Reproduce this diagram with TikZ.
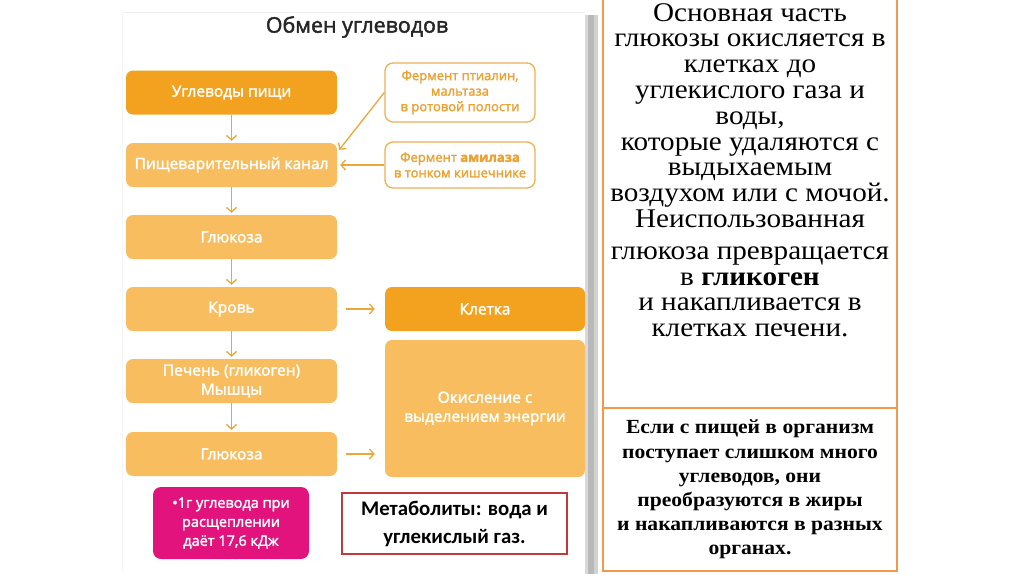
\documentclass[tikz,border=0pt]{standalone}
\usepackage{fontspec}
\setmainfont{Open Sans}
\newfontfamily\osemi[FakeBold=2]{Open Sans}
\newfontfamily\serifru[FakeStretch=1.08]{Liberation Serif}
\newfontfamily\calib{Carlito}
\usetikzlibrary{arrows.meta}
\definecolor{dorange}{HTML}{F3A220}
\definecolor{lorange}{HTML}{F8BD5E}
\definecolor{arrc}{HTML}{E9A837}
\definecolor{etext}{HTML}{EBA233}
\definecolor{pinkb}{HTML}{E2137C}
\definecolor{redb}{HTML}{C0393B}
\definecolor{rline}{HTML}{F29A4A}
\tikzset{
  x=1pt,y=-1pt,
  lbox/.style={rounded corners=7pt, text=white, font=\osemi\fontsize{15.5}{19}\selectfont, align=center,
    minimum width=211pt, minimum height=44pt, inner sep=0pt, fill=lorange},
  dbox/.style={lbox, fill=dorange},
  ebox/.style={rounded corners=8pt, draw=etext!85, line width=1.3pt, fill=white, text=etext,
    font=\osemi\fontsize{13}{15.5}\selectfont, align=center, minimum width=150pt, inner sep=0pt},
  flow/.style={draw=arrc, line width=1.3pt, -{Straight Barb[length=4.5pt,width=10pt,line width=1.3pt]}},
  rbox/.style={draw=rline, line width=2pt}
}
\begin{document}
\begin{tikzpicture}
\useasboundingbox (0,0) rectangle (1024,574);
\fill[white] (0,0) rectangle (1024,574);
% panel
\draw[gray!12, line width=0.8pt] (122,12) -- (585,12);
\draw[gray!8, line width=0.8pt] (122,12) -- (122,572);
\fill[gray!30] (585,15) rectangle (588,574);
\fill[gray!55] (588,15) rectangle (594,574);
\fill[gray!35] (594,15) rectangle (598,574);
% title
\node[font=\osemi\fontsize{21.4}{25}\selectfont, text=black!85] (title) at (357,27) {Обмен углеводов};
% left column
\node[dbox] (n1) at (231.5,92.5) {Углеводы пищи};
\node[lbox] (n2) at (231.5,165) {Пищеварительный канал};
\node[lbox] (n3) at (231.5,237) {Глюкоза};
\node[lbox] (n4) at (231.5,309) {Кровь};
\node[lbox] (n5) at (231.5,381) {Печень (гликоген)\\Мышцы};
\node[lbox] (n6) at (231.5,454) {Глюкоза};
% enzymes
\node[ebox, minimum height=59pt] (e1) at (460,92.5) {Фермент птиалин,\\мальтаза\\в ротовой полости};
\node[ebox, minimum height=46pt] (e2) at (460,165) {Фермент \textbf{амилаза}\\в тонком кишечнике};
% right
\node[dbox, minimum width=200pt] (k) at (485,309) {Клетка};
\node[lbox, minimum width=200pt, minimum height=137pt] (ox) at (485,408.5) {Окисление с\\выделением энергии};
% pink
\node[rounded corners=8pt, fill=pinkb, text=white, font=\osemi\fontsize{14.5}{19}\selectfont, align=center,
  minimum width=156pt, minimum height=72pt, inner sep=0pt] (pk) at (231,523) {•1г углевода при\\расщеплении\\даёт 17,6 кДж};
\node[draw=redb, line width=1.3pt, fill=white, font=\calib\bfseries\fontsize{20.8}{28}\selectfont, align=center,
  minimum width=225pt, minimum height=61pt, inner sep=0pt] (mb) at (454.5,523.5) {Метаболиты: вода и\\углекислый газ.};
% arrows
\draw[flow, shorten >=2pt] (n1) -- (n2);
\draw[flow, shorten >=2pt] (n2) -- (n3);
\draw[flow, shorten >=2pt] (n3) -- (n4);
\draw[flow, shorten >=2pt] (n4) -- (n5);
\draw[flow, shorten >=2pt] (n5) -- (n6);
\draw[flow] (e1.west) -- ([shift={(2,7)}]n2.north east);
\draw[flow, shorten >=3pt] (e2.west) -- (n2.east);
\draw[flow, shorten <=9pt, shorten >=10pt] (n4.east) -- (k.west);
\draw[flow, shorten <=9pt, shorten >=10pt] (n6.east) -- (n6.east -| ox.west);
% right text boxes
\draw[rbox] (603,-2) rectangle (897,408);
\draw[rbox] (603,408) rectangle (897,571);
\node[anchor=north, font=\serifru\fontsize{27}{25.8}\selectfont, align=center, inner sep=0pt] (t1) at (750,3)
 {Основная часть\\глюкозы окисляется в\\клетках до\\углекислого газа и\\воды,\\которые удаляются с\\выдыхаемым\\воздухом или с мочой.\\Неиспользованная\\[6pt]глюкоза превращается\\в \textbf{гликоген}\\и накапливается в\\клетках печени.};
\node[anchor=north, font=\serifru\bfseries\fontsize{20}{24.2}\selectfont, align=center, inner sep=0pt] (t2) at (750,420)
 {Если с пищей в организм\\поступает слишком много\\углеводов, они\\преобразуются в жиры\\и накапливаются в разных\\органах.};
\end{tikzpicture}
\end{document}
